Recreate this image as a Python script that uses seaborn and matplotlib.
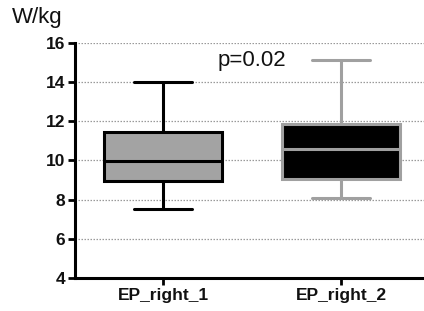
import matplotlib
matplotlib.use("Agg")
import matplotlib.pyplot as plt
import pandas as pd
import seaborn as sns

# five-number summaries (min, Q1, median, Q3, max)
groups = ["EP_right_1", "EP_right_2"]
ep_right_1 = [7.5, 8.93, 9.97, 11.43, 14.03]
ep_right_2 = [8.1, 9.05, 10.6, 11.84, 15.15]
y_ticks = [4, 6, 8, 10, 12, 14, 16]
p_text = "p=0.02"

sns.set_theme(style="white")
plt.rcParams["font.family"] = ["Liberation Sans", "DejaVu Sans"]

df = pd.DataFrame({
    "group": [groups[0]] * len(ep_right_1) + [groups[1]] * len(ep_right_2),
    "value": ep_right_1 + ep_right_2,
})

fig = plt.figure(figsize=(4.24, 3.11), dpi=100)
ax = fig.add_axes([0.177, 0.106, 0.823, 0.756])

# dotted horizontal grid
for y in y_ticks[1:]:
    ax.axhline(y, color="#9a9a9a", linestyle=(0, (1.2, 1.2)), linewidth=0.9, zorder=0)

fills = ["#a3a3a3", "#000000"]
edges = ["#000000", "#a0a0a0"]
for g, fc, ec in zip(groups, fills, edges):
    sns.boxplot(data=df[df["group"] == g], x="group", y="value", order=groups,
                whis=(0, 100), width=0.66, color=fc, linecolor=ec,
                linewidth=2.2, saturation=1, ax=ax)

ax.set_xlim(-0.494, 1.466)
ax.set_ylim(4, 16)
ax.set_yticks(y_ticks)
ax.set_xlabel("")
ax.set_ylabel("")
for side in ["top", "right"]:
    ax.spines[side].set_visible(False)
for side in ["left", "bottom"]:
    ax.spines[side].set_color("black")
    ax.spines[side].set_linewidth(2.2)
ax.tick_params(axis="both", direction="out", length=5, width=2, color="black",
               left=True, bottom=True, labelsize=12.5, pad=2)
for lbl in ax.get_yticklabels() + ax.get_xticklabels():
    lbl.set_fontweight("bold")
    lbl.set_color("#111111")

fig.text(0.028, 0.925, "W/kg", fontsize=16, color="#111111")
ax.text(0.5, 15.1, p_text, fontsize=16, color="#111111", ha="center", va="center")

fig.savefig("out.png", dpi=100)
